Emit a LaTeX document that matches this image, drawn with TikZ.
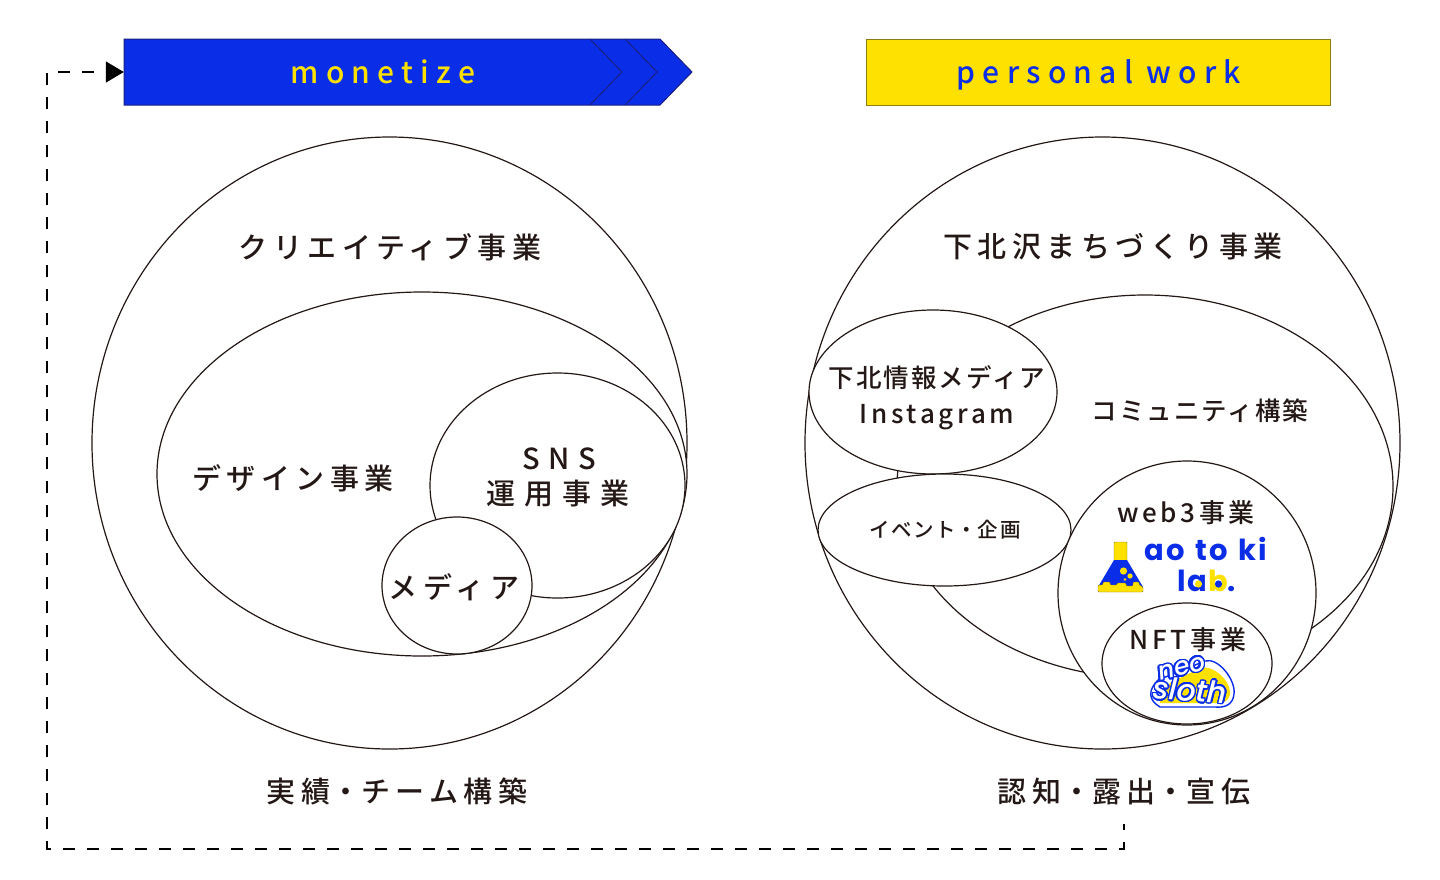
\documentclass[tikz,border=0pt]{standalone}
\usepackage{fontspec}
\usepackage{contour}
\setmainfont{Noto Sans CJK JP}[UprightFont=* Medium,LetterSpace=19]
\newfontfamily\widefont{Noto Sans CJK JP}[UprightFont=* Medium,LetterSpace=30]
\newfontfamily\tightfont{Noto Sans CJK JP}[UprightFont=* Medium,LetterSpace=8]
\newfontfamily\midfont{Noto Sans CJK JP}[UprightFont=* Medium,LetterSpace=14]
\newfontfamily\latinfont{Noto Sans CJK JP}[UprightFont=* Medium,LetterSpace=24]
\newfontfamily\logofont{Poppins}[BoldFont=* Bold,LetterSpace=8]
\newfontfamily\slothfont{Poppins}[ItalicFont=* Medium Italic]
\usetikzlibrary{arrows.meta, shapes.geometric, positioning}
\definecolor{Ink}{HTML}{231815}
\definecolor{Cobalt}{HTML}{0A2DE8}
\definecolor{CobaltDark}{HTML}{1A2080}
\definecolor{Lemon}{HTML}{FFE100}
\definecolor{LemonEdge}{HTML}{8C7D10}
\newcommand{\dotgap}{\hspace{1pt}・\hspace{1pt}}
\contourlength{1.5pt}
\contournumber{24}

\begin{document}
\begin{tikzpicture}[x=1pt, y=-1pt,
          venn/.style={ellipse, draw=Ink, fill=white, line width=1.2pt, inner sep=0pt},
          big/.style={font=\fontsize{29}{31}\selectfont, text=Ink, inner sep=0pt},
          wide/.style={font=\widefont\fontsize{29}{31}\selectfont, text=Ink, inner sep=0pt},
          mid/.style={font=\tightfont\fontsize{25.5}{27}\selectfont, text=Ink, inner sep=0pt},
          midlatin/.style={font=\midfont\fontsize{26}{27}\selectfont, text=Ink, inner sep=0pt},
          small/.style={font=\tightfont\fontsize{20.5}{22}\selectfont, text=Ink, inner sep=0pt},
          head/.style={font=\latinfont\fontsize{30}{32}\selectfont, inner sep=0pt, anchor=base},
          logo/.style={font=\logofont\bfseries\fontsize{29}{31}\selectfont, text=Cobalt, inner sep=0pt},
          dashline/.style={dashed, dash pattern=on 12pt off 12pt, dash phase=6pt, line width=1.6pt, color=black},
          arr/.style={-{Triangle[length=18pt, width=21pt]}}
        ]
          \useasboundingbox (0,0) rectangle (1440,879);
          % top bars
          \draw[fill=Cobalt, draw=CobaltDark, line width=1pt] (124,39) -- (660,39) -- (692,72) -- (660,105) -- (124,105) -- cycle;
          \draw[CobaltDark, line width=1pt] (590,39) -- (622,72) -- (590,105);
          \draw[CobaltDark, line width=1pt] (625,39) -- (657,72) -- (625,105);
          \node[inner sep=0pt, minimum width=536pt, minimum height=66pt] (monetizebar) at (392,72) {};
          \node[head, text=Lemon] (monetize) at (383,83) {monetize};
          \node[draw=LemonEdge, fill=Lemon, line width=1pt, minimum width=464pt, minimum height=66pt, inner sep=0pt] (workbar) at (1098,72) {};
          \node[head, text=Cobalt] (work) at (1099,83) {personal work};
          % left circles
          \node[venn, minimum width=595pt, minimum height=612pt] (creative) at (389.5,443) {};
          \node[venn, minimum width=530pt, minimum height=364pt] (design) at (422,474) {};
          \node[venn, minimum width=255pt, minimum height=225pt] (sns) at (557.5,485.5) {};
          \node[venn, minimum width=150pt, minimum height=137pt] (media) at (457,585.5) {};
          \node[big] (creativetxt) at (390,247) {クリエイティブ事業};
          \node[big] (designtxt) at (293,478) {デザイン事業};
          \node[wide] (snstxt) at (559,459) {SNS};
          \node[wide] (snstxtb) at (558,494) {運用事業};
          \node[big] (mediatxt) at (454,587) {メディア};
          \node[big] (teamtxt) at (397,791) {実績\dotgap チーム構築};
          % right circles
          \node[venn, minimum width=595pt, minimum height=612pt] (town) at (1102.5,443) {};
          \node[venn, minimum width=496pt, minimum height=383pt] (community) at (1145,486.5) {};
          \node[venn, minimum width=248pt, minimum height=164pt] (insta) at (933,392) {};
          \node[venn, minimum width=253pt, minimum height=112pt] (event) at (944.5,530) {};
          \node[venn, minimum width=258pt, minimum height=264pt] (webthree) at (1187,593) {};
          \node[venn, minimum width=170pt, minimum height=121pt] (nft) at (1187,663.5) {};
          \node[big] (towntxt) at (1113,247) {下北沢まちづくり事業};
          \node[mid] (instatxt) at (937,378) {下北情報メディア};
          \node[midlatin] (instatxtb) at (937,417) {Instagram};
          \node[mid] (communitytxt) at (1200,411) {コミュニティ構築};
          \node[small] (eventtxt) at (945,530) {イベント\hspace{0.5pt}・\hspace{0.5pt}企画};
          \node[midlatin] (webtxt) at (1186,513) {web3事業};
          \node[midlatin] (nfttxt) at (1188,640) {NFT事業};
          \node[big] (reachtxt) at (1124,791) {認知\dotgap 露出\dotgap 宣伝};
          % lab logo
          \fill[Lemon, draw=LemonEdge, line width=0.4pt, rounded corners=1pt] (1114,542) -- (1127,542) -- (1127,562) -- (1114,562) -- cycle;
          \fill[Cobalt] (1114,560) -- (1127,560) -- (1143,587) -- (1098,587) -- cycle;
          \fill[Lemon, draw=LemonEdge, line width=0.4pt, rounded corners=1pt] (1098,585) -- (1103,585) -- (1103,582) -- (1110,582) -- (1110,585) -- (1117,585) -- (1117,583) -- (1126,583) -- (1126,586) -- (1133,586) -- (1133,582) -- (1139,582) -- (1139,585) -- (1143,587) -- (1143,592) -- (1098,592) -- cycle;
          \fill[Lemon] (1123.5,571) circle (3.6pt) (1130,576) circle (2.6pt) (1125,579.5) circle (1.3pt);
          \node[logo] (laba) at (1206,549) {ao\hspace{2pt} to\hspace{2pt} ki};
          \node[logo] (labb) at (1207,581) {l\hspace{1pt}a\hspace{1pt}\textcolor{Lemon}{b}\textcolor{Cobalt}{.}};
          \fill[Lemon] (1198.5,584) circle (3.6pt);
          \fill[Cobalt] (1218.5,584) circle (3.6pt);
          % sloth logo
          \draw[Cobalt, fill=white, line width=1.4pt] (1205,661) .. controls (1218,657) and (1236,680) .. (1234,694) .. controls (1233,704) and (1226,708) .. (1215,707) -- (1160,707) .. controls (1148,700) and (1148,690) .. (1158,680) -- cycle;
          \fill[Lemon] (1160,690) -- (1172,682) -- (1200,668) .. controls (1212,664) and (1230,680) .. (1230,692) .. controls (1230,702) and (1222,704) .. (1212,703) -- (1160,703) -- cycle;
          \node[inner sep=0pt, rotate=14, text=white, font=\slothfont\itshape\fontsize{25}{25}\selectfont] (neo) at (1182,669) {\contour{Cobalt}{neo}};
          \node[inner sep=0pt, rotate=-4, text=white, font=\slothfont\itshape\fontsize{30}{30}\selectfont] (sloth) at (1190,691) {\contour{Cobalt}{sloth}};
          % loop back
          \coordinate (loopstart) at (1124,824);
          \coordinate (loopcorner) at (47,849);
          \coordinate (looptop) at (47,72);
          \draw[dashline, arr] (loopstart) |- (loopcorner) -- (looptop) -- (monetizebar.west);
        \end{tikzpicture}
\end{document}
